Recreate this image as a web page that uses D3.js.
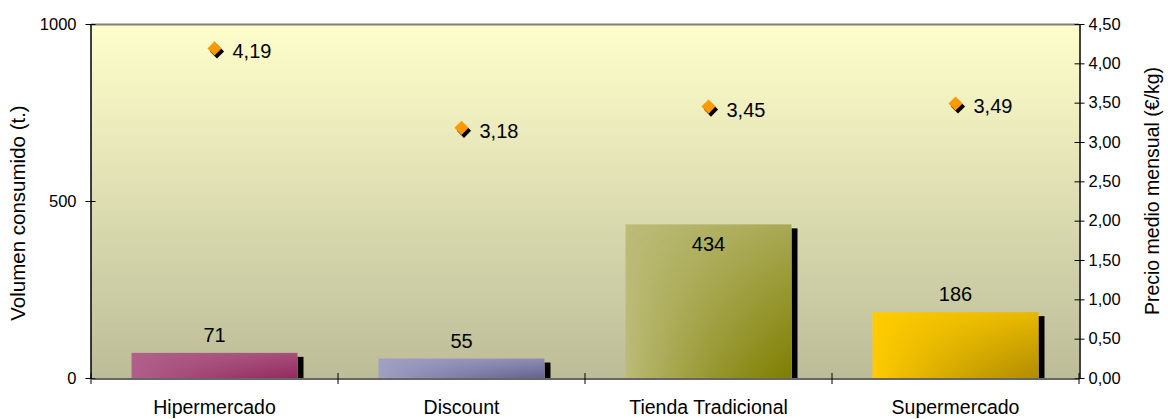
<!DOCTYPE html>
<html><head><meta charset="utf-8">
<script src="https://cdn.jsdelivr.net/npm/d3@7"></script>
<style>
html,body{margin:0;padding:0;background:#fff;}
svg{display:block;font-family:"Liberation Sans",Arial,sans-serif;}
</style></head>
<body>
<svg id="chart" width="1168" height="419"></svg>
<script>
const categories = ["Hipermercado", "Discount", "Tienda Tradicional", "Supermercado"];
const volumen = [71, 55, 434, 186];
const precio = [4.19, 3.18, 3.45, 3.49];
const volTicks = [0, 500, 1000];
const precioTicks = [0, 0.5, 1, 1.5, 2, 2.5, 3, 3.5, 4, 4.5];
const barLight = ["#b0608a", "#a0a0c4", "#bcbc78", "#ffcc00"];
const barDark = ["#932a5c", "#62628f", "#7e7e00", "#b08c00"];

const W = 1168, H = 419;
const m = {l: 91, r: 89, t: 24, b: 41};
const svg = d3.select("#chart");
const defs = svg.append("defs");
const fmt = d3.format(".2f");
const comma = v => fmt(v).replace(".", ",");

const x = d3.scaleBand().domain(categories).range([m.l, W - m.r]).paddingInner(0.328).paddingOuter(0.164);
const yL = d3.scaleLinear().domain([0, 1000]).range([H - m.b, m.t]);
const yR = d3.scaleLinear().domain([0, 4.5]).range([H - m.b, m.t]);

// plot background gradient
const bg = defs.append("linearGradient").attr("id", "bg").attr("x1", 0).attr("y1", 0).attr("x2", 0).attr("y2", 1);
bg.append("stop").attr("offset", 0).attr("stop-color", "#ffffcc");
bg.append("stop").attr("offset", 1).attr("stop-color", "#bcbc98");
svg.append("rect").attr("x", m.l).attr("y", m.t).attr("width", W - m.l - m.r).attr("height", H - m.t - m.b).attr("fill", "url(#bg)");

// mask: vertical ramp
const mg = defs.append("linearGradient").attr("id", "mv").attr("x1", 0).attr("y1", 0).attr("x2", 0).attr("y2", 1);
mg.append("stop").attr("offset", 0).attr("stop-color", "#000");
mg.append("stop").attr("offset", 1).attr("stop-color", "#fff");
const mask = defs.append("mask").attr("id", "cornerMask").attr("maskContentUnits", "objectBoundingBox").attr("maskUnits", "objectBoundingBox")
  .attr("x", 0).attr("y", 0).attr("width", 1).attr("height", 1);
mask.append("rect").attr("x", 0).attr("y", 0).attr("width", 1).attr("height", 1).attr("fill", "url(#mv)");

categories.forEach((c, i) => {
  const g = defs.append("linearGradient").attr("id", "h" + i).attr("x1", 0).attr("y1", 0).attr("x2", 1).attr("y2", 0);
  g.append("stop").attr("offset", 0).attr("stop-color", barDark[i]).attr("stop-opacity", 0);
  g.append("stop").attr("offset", 1).attr("stop-color", barDark[i]).attr("stop-opacity", 1);
  const g2 = defs.append("linearGradient").attr("id", "hh" + i).attr("x1", 0).attr("y1", 0).attr("x2", 1).attr("y2", 0);
  g2.append("stop").attr("offset", 0).attr("stop-color", barLight[i]).attr("stop-opacity", 1);
  g2.append("stop").attr("offset", 1).attr("stop-color", d3.interpolateRgb(barLight[i], barDark[i])(0.3)).attr("stop-opacity", 1);
});

const bw = x.bandwidth();
const bars = svg.append("g");
volumen.forEach((v, i) => {
  const c = categories[i];
  const bx = x(c), by = yL(v), bh = yL(0) - yL(v);
  bars.append("rect").attr("x", bx + bw).attr("y", by + 4).attr("width", 6).attr("height", Math.max(0, bh - 4)).attr("fill", "#000");
  bars.append("rect").attr("x", bx).attr("y", by).attr("width", bw).attr("height", bh).attr("fill", "url(#hh" + i + ")");
  bars.append("rect").attr("x", bx).attr("y", by).attr("width", bw).attr("height", bh).attr("fill", "url(#h" + i + ")").attr("mask", "url(#cornerMask)");
});

// border line at top
svg.append("line").attr("x1", m.l).attr("x2", W - m.r).attr("y1", m.t + 0.5).attr("y2", m.t + 0.5).attr("stroke", "#808080").attr("stroke-width", 2);

// axes
const axL = d3.axisLeft(yL).tickValues(volTicks).tickSizeInner(5).tickSizeOuter(0).tickPadding(9).tickFormat(d => String(d));
const gL = svg.append("g").attr("transform", `translate(${m.l - 0.5},0)`).call(axL);
const axR = d3.axisRight(yR).tickValues(precioTicks).tickSizeInner(5).tickSizeOuter(0).tickPadding(4).tickFormat(comma);
const gR = svg.append("g").attr("transform", `translate(${W - m.r + 0.5},0)`).call(axR);
const axB = d3.axisBottom(x).tickSize(0).tickPadding(22);
const gB = svg.append("g").attr("transform", `translate(0,${H - m.b + 0.5})`).call(axB);

[gL, gR].forEach(g => {
  g.select(".domain").attr("stroke", "#000").attr("stroke-width", 1.5);
  g.selectAll(".tick line").attr("stroke", "#000").attr("x1", -5).attr("x2", 5);
  g.selectAll(".tick text").attr("font-size", 16.5).attr("fill", "#000").attr("font-family", "Liberation Sans, Arial, sans-serif");
});
gB.select(".domain").attr("stroke", "#333").attr("stroke-width", 1.5);
gB.selectAll(".tick text").attr("font-size", 19.5).attr("fill", "#000").attr("font-family", "Liberation Sans, Arial, sans-serif");
const step = x.step();
const bounds = d3.range(categories.length + 1).map(k => m.l + k * step);
svg.append("g").selectAll("line").data(bounds).join("line")
  .attr("x1", d => d).attr("x2", d => d).attr("y1", H - m.b - 5).attr("y2", H - m.b + 6)
  .attr("stroke", "#000");

// bar labels
volumen.forEach((v, i) => {
  const c = categories[i];
  const ly = v > 300 ? yL(v) + 27 : yL(v) - 11;
  svg.append("text").attr("x", x(c) + bw / 2).attr("y", ly).attr("text-anchor", "middle")
    .attr("font-size", 20).attr("fill", "#000").text(v);
});

// price markers
const sq = d3.symbol().type(d3.symbolSquare).size(100);
precio.forEach((p, i) => {
  const cx = x(categories[i]) + bw / 2, cy = yR(p);
  svg.append("path").attr("d", sq()).attr("transform", `translate(${cx + 2.5},${cy + 3}) rotate(45)`).attr("fill", "#000");
  svg.append("path").attr("d", sq()).attr("transform", `translate(${cx},${cy}) rotate(45)`).attr("fill", "#ff9900");
  svg.append("text").attr("x", cx + 18).attr("y", cy + 10).attr("font-size", 20).attr("fill", "#000").text(comma(p));
});

// axis titles
svg.append("text").attr("transform", `translate(25,${(m.t + H - m.b) / 2 + 12}) rotate(-90)`).attr("text-anchor", "middle")
  .attr("font-size", 20.5).attr("fill", "#000").text("Volumen consumido (t.)");
svg.append("text").attr("transform", `translate(1159,${(m.t + H - m.b) / 2 - 10}) rotate(-90)`).attr("text-anchor", "middle")
  .attr("font-size", 19.5).attr("fill", "#000").text("Precio medio mensual (€/kg)");
</script>
</body></html>
